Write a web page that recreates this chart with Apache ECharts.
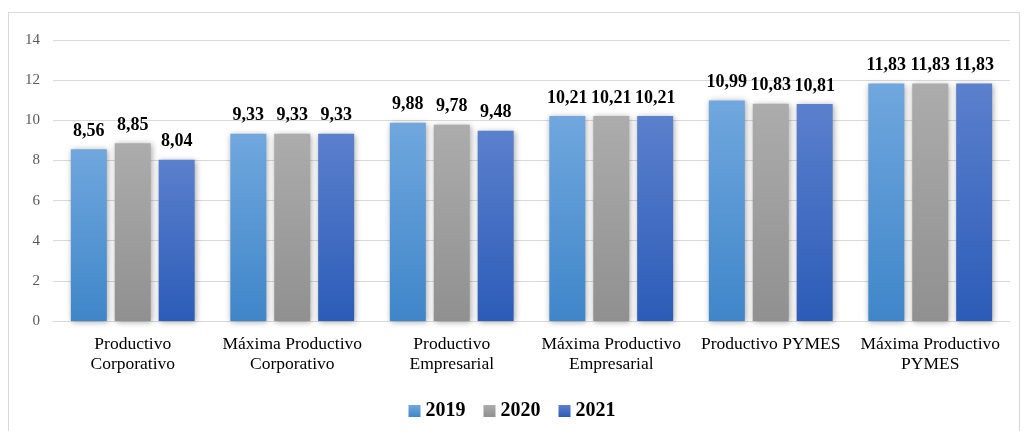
<!DOCTYPE html>
<html><head><meta charset="utf-8">
<script src="https://cdn.jsdelivr.net/npm/echarts@6/dist/echarts.min.js"></script>
<style>html,body{margin:0;padding:0;background:#fff}#frame{position:absolute;left:8px;top:12px;width:1012px;height:430px;border:1px solid #d9d9d9;box-sizing:border-box}#c{position:absolute;left:0;top:0;width:1024px;height:431px}</style>
</head><body><div id="frame"></div><div id="c"></div>
<script>
const categories = ['Productivo\nCorporativo','Máxima Productivo\nCorporativo','Productivo\nEmpresarial','Máxima Productivo\nEmpresarial','Productivo PYMES','Máxima Productivo\nPYMES'];
const seriesNames = ['2019','2020','2021'];
const v2019 = [8.56, 9.33, 9.88, 10.21, 10.99, 11.83];
const v2020 = [8.85, 9.33, 9.78, 10.21, 10.83, 11.83];
const v2021 = [8.04, 9.33, 9.48, 10.21, 10.81, 11.83];
const yTicks = {min:0, max:14, interval:2};

const grads = [['#70A7DE','#3F86C9'],['#ACACAC','#909090'],['#5B80CD','#2C5CB8']];
const serif = '"Liberation Serif","Times New Roman",serif';
function grad(c){return {type:'linear',x:0,y:0,x2:0,y2:1,colorStops:[{offset:0,color:c[0]},{offset:1,color:c[1]}]};}
const data = [v2019, v2020, v2021];
const chart = echarts.init(document.getElementById('c'), null, {renderer:'canvas'});
chart.setOption({
  animation:false,
  grid:{left:53, right:14, top:40, bottom:110, containLabel:false},
  legend:{top:396, left:'center', itemWidth:12, itemHeight:12, itemGap:18,
    textStyle:{fontFamily:serif, fontWeight:'bold', fontSize:20, color:'#000'},
    data:seriesNames.map((n,i)=>({name:n, icon:'rect', itemStyle:{color:grad(grads[i])}}))},
  xAxis:{type:'category', data:categories,
    axisLine:{lineStyle:{color:'#d9d9d9', width:1}}, axisTick:{show:false},
    axisLabel:{fontFamily:serif, fontSize:17.5, color:'#000', lineHeight:20, margin:13, interval:0}},
  yAxis:{type:'value', min:yTicks.min, max:yTicks.max, interval:yTicks.interval,
    axisLine:{show:false}, axisTick:{show:false},
    axisLabel:{fontFamily:serif, fontSize:15, color:'#595959', margin:13},
    splitLine:{lineStyle:{color:'#d9d9d9', width:1}}},
  series: seriesNames.map((n,i)=>({
    name:n, type:'bar', data:data[i], barWidth:36, barGap:'22%',
    itemStyle:{color:grad(grads[i]), shadowColor:'rgba(0,0,0,0.35)', shadowBlur:6, shadowOffsetX:1, shadowOffsetY:1},
    label:{show:true, position:'top', distance:9, fontFamily:serif, fontWeight:'bold', fontSize:18, color:'#000',
      formatter:p=>p.value.toFixed(2).replace('.',',')}
  }))
});
</script></body></html>
